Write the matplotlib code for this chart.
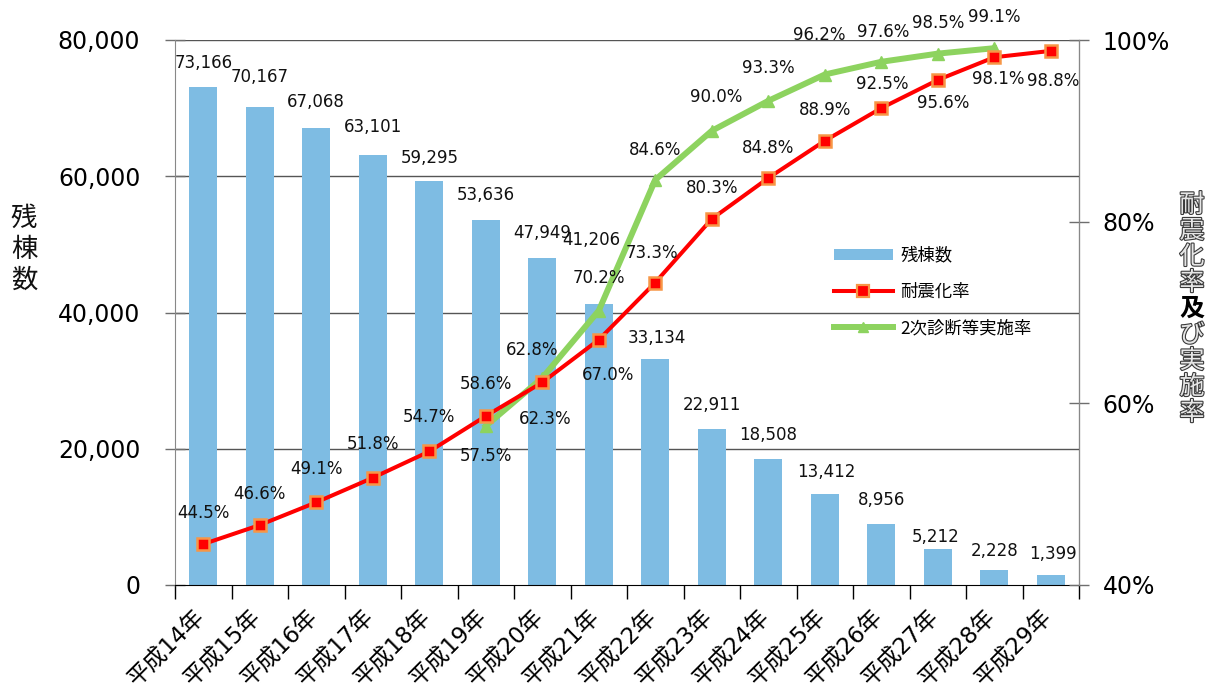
import numpy as np
import matplotlib
matplotlib.use("Agg")
import matplotlib.pyplot as plt
import matplotlib.patheffects as pe
import matplotlib.transforms as mtransforms
from matplotlib.ticker import FuncFormatter, FixedLocator
from matplotlib.lines import Line2D
from matplotlib.patches import Patch

plt.rcParams['font.family'] = ['DejaVu Sans', 'Noto Sans CJK JP']

# ---- data ----
years = ['平成14年', '平成15年', '平成16年', '平成17年', '平成18年', '平成19年', '平成20年', '平成21年',
         '平成22年', '平成23年', '平成24年', '平成25年', '平成26年', '平成27年', '平成28年', '平成29年']
remaining = [73166, 70167, 67068, 63101, 59295, 53636, 47949, 41206,
             33134, 22911, 18508, 13412, 8956, 5212, 2228, 1399]
seismic_rate = [44.5, 46.6, 49.1, 51.8, 54.7, 58.6, 62.3, 67.0,
                73.3, 80.3, 84.8, 88.9, 92.5, 95.6, 98.1, 98.8]
survey_rate = [np.nan, np.nan, np.nan, np.nan, np.nan, 57.5, 62.8, 70.2,
               84.6, 90.0, 93.3, 96.2, 97.6, 98.5, 99.1, np.nan]
bar_name = '残棟数'
red_name = '耐震化率'
green_name = '2次診断等実施率'
left_ticks = [0, 20000, 40000, 60000, 80000]
right_ticks = [40, 60, 80, 100]

# label offsets (pixels, dx, dy)
bar_lbl_off = [(0, 24), (0, 30), (0, 26), (0, 28), (0, 23), (0, 25), (0, 25), (-7, 64),
               (2, 21), (0, 24), (0, 24), (2, 22), (0, 24), (-2, 12), (0, 19), (2, 21)]
red_lbl_off = [(0, 31), (0, 31), (0, 33), (0, 34), (0, 34), (0, 32), (3, -37), (9, -35),
               (-3, 30), (0, 31), (0, 30), (0, 31), (1, 24), (5, -23), (4, -22), (2, -30)]
green_lbl_off = [None, None, None, None, None, (0, -30), (-10, 28), (0, 33),
                 (0, 30), (4, 34), (0, 33), (-5, 40), (2, 30), (0, 31), (0, 31), None]

W, H = 1215, 696
fig = plt.figure(figsize=(W / 100, H / 100), dpi=100)
ax = fig.add_axes([175 / W, 1 - 585 / H, (1079 - 175) / W, (585 - 40) / H])
ax2 = ax.twinx()

x = np.arange(len(years))
bar_color = '#7EBCE3'
ax.bar(x, remaining, width=0.5, color=bar_color, zorder=2)
ax.set_xlim(-0.5, len(years) - 0.5)
ax.set_ylim(0, 80000)
ax.yaxis.set_major_locator(FixedLocator(left_ticks))
ax.yaxis.set_major_formatter(FuncFormatter(lambda v, p: f'{int(v):,}'))
for t in left_ticks[1:]:
    ax.axhline(t, color='#555555', lw=1.0, zorder=1)

ax.set_xticks(x)
ax.set_xticklabels(years, rotation=45, ha='right', rotation_mode='anchor', fontsize=16.5)
ax.set_xticks(np.arange(-0.5, len(years)), minor=True)
ax.tick_params(axis='x', which='major', length=0, pad=15)
ax.tick_params(axis='x', which='minor', length=10, width=1, color='#000000', direction='out')
ax.tick_params(axis='y', labelsize=17, direction='inout', length=14, width=1, color='#6e6e6e', pad=18)
shift = mtransforms.ScaledTranslation(-10 / 100, 0, fig.dpi_scale_trans)
for lbl in ax.get_xticklabels():
    lbl.set_transform(lbl.get_transform() + shift)

for s in ['top']:
    ax.spines[s].set_visible(False)
    ax2.spines[s].set_visible(False)
ax.spines['left'].set_color('#888888')
ax.spines['bottom'].set_color('#000000')
ax2.spines['right'].set_color('#888888')
ax2.spines['left'].set_visible(False)
ax2.spines['bottom'].set_visible(False)

for i, v in enumerate(remaining):
    dx, dy = bar_lbl_off[i]
    ax.annotate(f'{v:,}', (x[i], v), xytext=(dx, dy), textcoords='offset pixels',
                ha='center', va='center', fontsize=12, color='#111111', zorder=5)

ax2.set_ylim(40, 100)
ax2.yaxis.set_major_locator(FixedLocator(right_ticks))
ax2.yaxis.set_major_formatter(FuncFormatter(lambda v, p: f'{int(v)}%'))
ax2.tick_params(axis='y', labelsize=17, direction='inout', length=14, width=1, color='#6e6e6e', pad=10)

ax2.plot(x, survey_rate, color='#8DD35F', lw=4.3, marker='^', markersize=9,
         markerfacecolor='#8DD35F', markeredgecolor='#8DD35F', zorder=3)
ax2.plot(x, seismic_rate, color='#FF0000', lw=2.9, marker='s', markersize=8.5,
         markerfacecolor='#FF0000', markeredgecolor='#F79646', markeredgewidth=1.8, zorder=4)

for i, v in enumerate(seismic_rate):
    dx, dy = red_lbl_off[i]
    ax2.annotate(f'{v:.1f}%', (x[i], v), xytext=(dx, dy), textcoords='offset pixels',
                 ha='center', va='center', fontsize=12, color='#111111', zorder=6)
for i, v in enumerate(survey_rate):
    if green_lbl_off[i] is None or np.isnan(v):
        continue
    dx, dy = green_lbl_off[i]
    ax2.annotate(f'{v:.1f}%', (x[i], v), xytext=(dx, dy), textcoords='offset pixels',
                 ha='center', va='center', fontsize=12, color='#111111', zorder=6)

handles = [Patch(facecolor=bar_color, edgecolor='none'),
           Line2D([], [], color='#FF0000', lw=2.9, marker='s', markersize=8,
                  markerfacecolor='#FF0000', markeredgecolor='#F79646', markeredgewidth=1.6),
           Line2D([], [], color='#8DD35F', lw=4.3, marker='^', markersize=7,
                  markerfacecolor='#8DD35F', markeredgecolor='#8DD35F')]
leg = fig.legend(handles, [bar_name, red_name, green_name], loc='upper left',
                 bbox_to_anchor=(818 / W, 1 - 231 / H), frameon=False,
                 prop={'family': ['Noto Sans CJK JP', 'DejaVu Sans'], 'size': 12.5},
                 handlelength=3.4, handleheight=0.6, labelspacing=1.05, handletextpad=0.45)

# left axis title (vertical stacked)
for k, ch in enumerate('残棟数'):
    fig.text(24 / W, 1 - (218 + 31 * k) / H, ch, fontsize=19, ha='center', va='center',
             color='#111111', family=['Noto Sans CJK JP'])

# right axis title (vertical stacked, outlined)
right_title = '耐震化率及び実施率'
for k, ch in enumerate(right_title):
    yy = 1 - (205 + 26 * k) / H
    if ch == '及':
        fig.text(1192 / W, yy, ch, fontsize=18, ha='center', va='center',
                 color='#000000', fontweight='bold', family=['Noto Sans CJK JP'])
    else:
        fig.text(1192 / W, yy, ch, fontsize=18, ha='center', va='center', color='#e6e6e6',
                 family=['Noto Sans CJK JP'],
                 path_effects=[pe.withStroke(linewidth=1.6, foreground='#3a3a3a')])

fig.savefig('out.png', dpi=100)
